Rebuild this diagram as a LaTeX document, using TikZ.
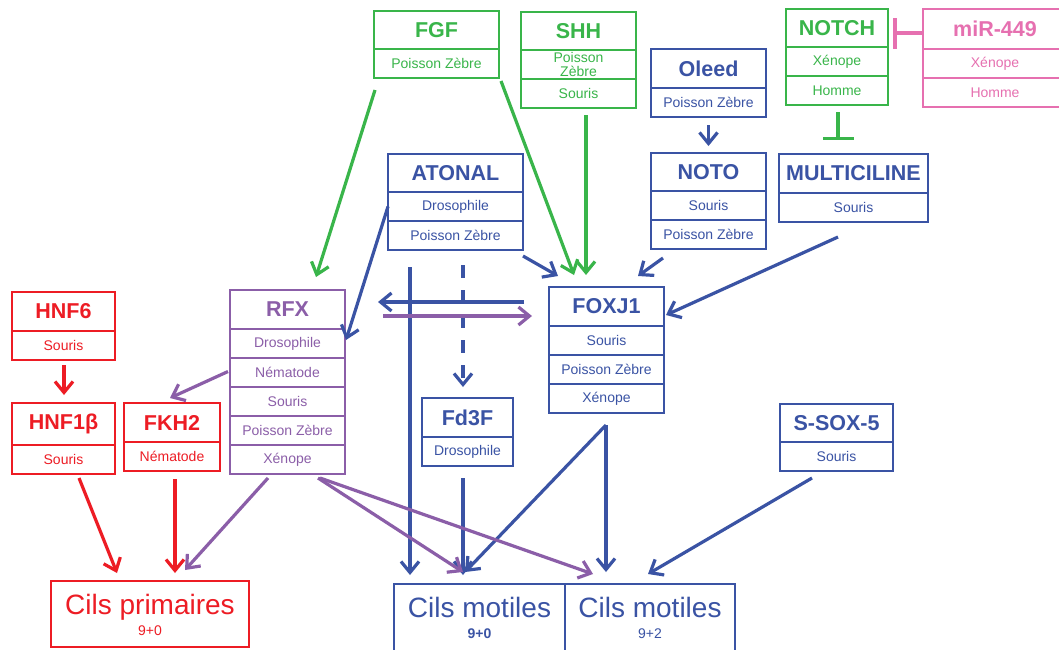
\documentclass[tikz,border=0pt]{standalone}
\usepackage{fontspec}
\setmainfont{Liberation Sans}
\usetikzlibrary{arrows.meta,calc}
\definecolor{cgreen}{RGB}{57,181,74}
\definecolor{cblue}{RGB}{58,83,164}
\definecolor{cpurple}{RGB}{139,94,168}
\definecolor{cred}{RGB}{237,28,36}
\definecolor{cpink}{RGB}{230,112,176}
\tikzset{
 titlebox/.style={draw, line width=1.3pt, rectangle, inner sep=0pt, outer sep=0pt,
   font=\bfseries\fontsize{21.5}{24}\selectfont, anchor=north west},
 rowbox/.style={draw, line width=1.1pt, rectangle, inner sep=0pt, outer sep=0pt,
   minimum height=29, font=\fontsize{14}{13.5}\selectfont, anchor=north west, align=center},
 cilsbox/.style={draw, line width=1.3pt, rectangle, inner sep=0pt, outer sep=0pt,
   anchor=north west},
 cilstext/.style={inner sep=0pt, anchor=north, font=\fontsize{28}{30}\selectfont},
 cilsnum/.style={inner sep=0pt, anchor=north, font=\fontsize{14}{16}\selectfont},
 arr/.style={line width=3.2pt, -{Straight Barb[length=11pt,width=18pt]}},
 inh/.style={line width=3.5pt, -{Bar[width=31pt]}},
}
\newcommand\genebox[7]{%
 \node[titlebox, draw=#2, text=#2, minimum width=#4, minimum height=#5] (#1) at (#3) {#6};
 \foreach \rowtxt [count=\ri] in {#7} {
   \node[rowbox, draw=#2, text=#2, minimum width=#4] (#1-\ri) at ($(#1.south west)+(0,{(\ri-1)*29})$) {\rowtxt};
 }
}
\begin{document}
\begin{tikzpicture}[x=1pt,y=-1pt]
\path[use as bounding box, clip] (0,0) rectangle (1059,649);
\fill[white] (0,0) rectangle (1059,649);

% boxes
\genebox{fgf}{cgreen}{374,11}{125}{38}{FGF}{Poisson Zèbre}
\genebox{shh}{cgreen}{521,12}{115}{38}{SHH}{{Poisson\\Zèbre},Souris}
\genebox{notch}{cgreen}{786,9}{102}{38}{NOTCH}{Xénope,Homme}
\genebox{mir}{cpink}{923,9}{144}{40}{miR-449}{Xénope,Homme}
\genebox{oleed}{cblue}{651,49}{115}{39}{Oleed}{Poisson Zèbre}
\genebox{noto}{cblue}{651,153}{115}{38}{NOTO}{Souris,Poisson Zèbre}
\genebox{multi}{cblue}{779,154}{149}{39}{MULTICILINE}{Souris}
\genebox{atonal}{cblue}{388,154}{135}{38}{ATONAL}{Drosophile,Poisson Zèbre}
\genebox{foxj}{cblue}{549,287}{115}{39}{FOXJ1}{Souris,Poisson Zèbre,Xénope}
\genebox{rfx}{cpurple}{230,290}{115}{39}{RFX}{Drosophile,Nématode,Souris,Poisson Zèbre,Xénope}
\genebox{hnfsix}{cred}{12,292}{103}{39}{HNF6}{Souris}
\genebox{hnfone}{cred}{12,403}{103}{42}{HNF1β}{Souris}
\genebox{fkh}{cred}{124,403}{96}{39}{FKH2}{Nématode}
\genebox{fdf}{cblue}{422,398}{91}{39}{Fd3F}{Drosophile}
\genebox{ssox}{cblue}{780,404}{113}{38}{S-SOX-5}{Souris}

\node[cilsbox, draw=cblue, minimum width=171, minimum height=72] (cmz) at (394,584) {};
\node[cilstext, text=cblue] (cmzt) at ($(cmz.north)+(0,13)$) {Cils motiles};
\node[cilsnum, text=cblue, font=\bfseries\fontsize{14}{16}\selectfont] (cmzn) at ($(cmz.north)+(0,45)$) {9+0};
\node[cilsbox, draw=cblue, minimum width=170, minimum height=72] (cmt) at (565,584) {};
\node[cilstext, text=cblue] (cmtt) at ($(cmt.north)+(0,13)$) {Cils motiles};
\node[cilsnum, text=cblue] (cmtn) at ($(cmt.north)+(0,45)$) {9+2};
\node[cilsbox, draw=cred, minimum width=198, minimum height=66] (cp) at (51,581) {};
\node[cilstext, text=cred] (cpt) at ($(cp.north)+(0,13)$) {Cils primaires};
\node[cilsnum, text=cred] (cpn) at ($(cp.north)+(0,45)$) {9+0};

% green connectors
\draw[arr, cgreen] ($(fgf-1.south west)+(1,12)$) -- ($(rfx.north east)+(-29,-13)$);
\draw[arr, cgreen] ($(fgf-1.south east)+(2,3)$) -- ($(foxj.north west)+(25,-12)$);
\draw[arr, cgreen] ($(shh-2.south west)+(65,7)$) -- ($(foxj.north west)+(37,-12)$);
\draw[inh, cgreen] ($(notch-2.south west)+(52,7)$) -- ($(multi.north west)+(59,-14)$);
\draw[inh, cpink] ($(mir.north west)+(0,24)$) -- ($(notch.north east)+(5,24)$);

% blue connectors
\draw[arr, cblue] ($(oleed-1.south)+(0,8)$) -- ($(noto.north)+(0,-7)$);
\draw[arr, cblue] (atonal-1.west) -- ($(rfx.north east)+(1,50)$);
\draw[arr, cblue] ($(atonal-2.south east)+(0,6)$) -- ($(foxj.north west)+(9,-11)$);
\draw[arr, cblue] ($(noto-2.south west)+(12,9)$) -- ($(foxj.north east)+(-26,-11)$);
\draw[arr, cblue] ($(multi-1.south west)+(59,15)$) -- ($(foxj.north east)+(2,28)$);
\draw[arr, cblue] ($(foxj.north west)+(-25,15)$) -- ($(rfx.north east)+(33,12)$);
\draw[arr, cblue] ($(atonal-2.south west)+(22,17)$) -- ($(cmz.north west)+(16,-9)$);
\draw[arr, cblue, dash pattern=on 13pt off 12pt] ($(atonal-2.south west)+(75,15)$) -- ($(fdf.north west)+(41,-11)$);
\draw[arr, cblue] ($(fdf-1.south west)+(41,12)$) -- ($(cmz.north west)+(69,-9)$);
\draw[arr, cblue] ($(foxj-3.south west)+(57,12)$) -- ($(cmz.north west)+(71,-12)$);
\draw[arr, cblue] ($(foxj-3.south west)+(57,12)$) -- ($(cmt.north west)+(41,-12)$);
\draw[arr, cblue] ($(ssox-1.south west)+(32,7)$) -- ($(cmt.north west)+(83,-10)$);

% purple connectors
\draw[arr, cpurple] ($(rfx.north east)+(38,26)$) -- ($(foxj.north west)+(-17,29)$);
\draw[arr, cpurple] ($(rfx-5.south west)+(88,4)$) -- ($(cmz.north west)+(69,-12)$);
\draw[arr, cpurple] ($(rfx-5.south west)+(90,4)$) -- ($(cmt.north west)+(28,-10)$);
\draw[arr, cpurple] ($(rfx-5.south west)+(38,4)$) -- ($(cp.north west)+(134,-11)$);
\draw[arr, cpurple] ($(rfx-2.west)+(-2,-1)$) -- ($(fkh.north west)+(46,-5)$);

% red connectors
\draw[arr, cred] ($(hnfsix-1.south west)+(52,5)$) -- ($(hnfone.north west)+(52,-8)$);
\draw[arr, cred] ($(hnfone-1.south west)+(67,4)$) -- ($(cp.north west)+(66,-8)$);
\draw[arr, cred] ($(fkh-1.south west)+(51,8)$) -- ($(cp.north west)+(124,-8)$);
\end{tikzpicture}
\end{document}
